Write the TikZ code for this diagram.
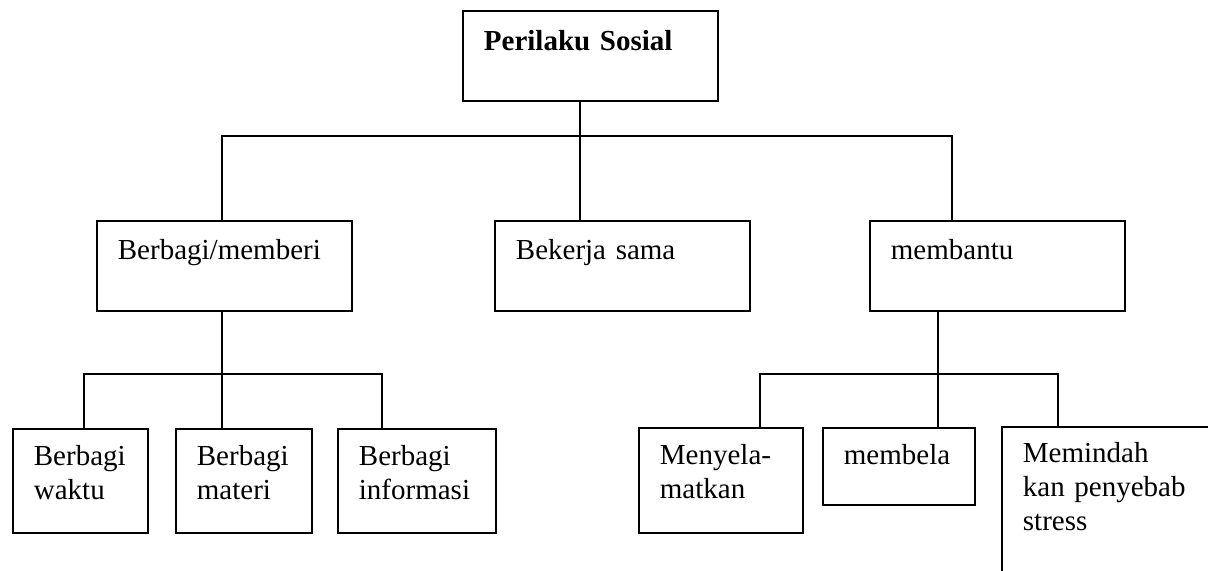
\documentclass[tikz,border=0pt]{standalone}
\usepackage{fontspec}
\setmainfont{Liberation Serif}
\begin{document}
\begin{tikzpicture}[x=0.5pt,y=-0.5pt,
	box/.style={draw=black,line width=0.9pt,anchor=north west,align=left,inner ysep=0pt,inner xsep=10.5pt,font=\fontsize{14.5}{17}\selectfont},
	link/.style={draw=black,line width=0.9pt}
]
	\useasboundingbox (0,0) rectangle (1208,570);
	\clip (0,0) rectangle (1208,570);

	% top level
	\node[box,text width=106.5pt,text height=20pt,text depth=25pt] (sosial) at (462,10) {\textbf{Perilaku Sosial}};

	% second level
	\node[box,text width=106.5pt,text height=19.5pt,text depth=25.5pt] (berbagi) at (96,220) {Berbagi/memberi};
	\node[box,text width=106.5pt,text height=19.5pt,text depth=25.5pt] (bekerja) at (494,220) {Bekerja sama};
	\node[box,text width=106.5pt,text height=19.5pt,text depth=25.5pt] (membantu) at (869,220) {membantu};

	% third level
	\node[box,text width=46.5pt,text height=18.5pt,text depth=33.5pt] (waktu) at (12,428) {Berbagi\\waktu};
	\node[box,text width=47pt,text height=18.5pt,text depth=33.5pt] (materi) at (175,428) {Berbagi\\materi};
	\node[box,text width=58pt,text height=18.5pt,text depth=33.5pt] (informasi) at (337,428) {Berbagi\\informasi};
	\node[box,text width=61pt,text height=18.5pt,text depth=34pt] (menyela) at (638,427) {Menyela-\\matkan};
	\node[box,text width=55pt,text height=18.5pt,text depth=20pt] (membela) at (822,427) {membela};
	\node[box,text width=99pt,text height=18pt,text depth=79pt] (memindah) at (1001,426) {Memindah\\kan penyebab\\stress};

	% junctions
	\coordinate (j1) at (580,136);
	\coordinate (j2) at (222,374);
	\coordinate (j3) at (938,374);

	\draw[link] (sosial.south -| j1) -- (j1);
	\draw[link] (berbagi.north -| 222,0) |- (952,136) -- (membantu.north -| 952,0);
	\draw[link] (j1) -- (bekerja.north -| j1);

	\draw[link] (berbagi.south -| j2) -- (j2);
	\draw[link] (waktu.north -| 84,0) |- (382,374) -- (informasi.north -| 382,0);
	\draw[link] (j2) -- (materi.north -| j2);

	\draw[link] (membantu.south -| j3) -- (j3);
	\draw[link] (menyela.north -| 760,0) |- (1058,374) -- (memindah.north -| 1058,0);
	\draw[link] (j3) -- (membela.north -| j3);

\end{tikzpicture}
\end{document}
